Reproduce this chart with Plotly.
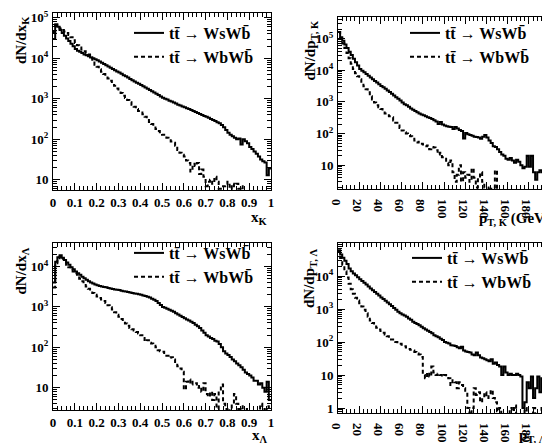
import numpy as np
import plotly.graph_objects as go

# ---- bin contents (100 bins each) ----
# x_K, 0..1
xk_ws = [30000, 70000, 60000, 50000, 42000, 36000, 31000, 27000, 23000, 20000,
         17000, 15500, 14500, 13500, 12500, 12000, 11200, 10500, 10000, 9500,
         9000, 8400, 7800, 7300, 6800, 6300, 5900, 5500, 5100, 4750,
         4450, 4150, 3850, 3600, 3350, 3100, 2900, 2700, 2500, 2350,
         2200, 2050, 1900, 1780, 1650, 1540, 1430, 1330, 1240, 1150,
         1070, 1010, 960, 900, 860, 810, 770, 720, 690, 650,
         620, 590, 560, 530, 500, 475, 450, 425, 400, 380,
         360, 340, 320, 300, 285, 265, 250, 225, 200, 170,
         145, 130, 120, 110, 100, 105, 75, 100, 90, 80,
         65, 58, 50, 44, 38, 32, 29, 27, 13, 19]
xk_wb = [45000, 65000, 62000, 55000, 50000, 46000, 42000, 38000, 33000, 28000,
         24000, 21000, 18500, 16500, 15000, 13500, 12500, 10500, 8500, 7000,
         6200, 5400, 4700, 4100, 3600, 3200, 2800, 2400, 2100, 1800,
         1600, 1400, 1200, 1050, 940, 830, 720, 640, 560, 500,
         460, 420, 360, 320, 270, 240, 210, 180, 160, 140,
         130, 120, 110, 95, 88, 83, 70, 55, 47, 42,
         38, 30, 26, 16, 25, 22, 26, 14, 18, 12,
         7, 9, 10, 8, 12, 9, 6, 4, 7, 8,
         9, 6, 8, 7, 8, 6, 7, 4, 3, 3,
         3, 3, 3, 3, 3, 3, 3, 3, 3, 3]

# p_T,K, 0..200 GeV
ptk_ws = [160000, 110000, 85000, 65000, 50000, 38000, 30000, 23000, 18000, 14000,
          11000, 9700, 8600, 7600, 6700, 5900, 5200, 4600, 4100, 3600,
          3200, 2900, 2600, 2300, 2050, 1800, 1600, 1400, 1250, 1100,
          950, 850, 780, 700, 620, 560, 520, 470, 430, 400,
          380, 350, 330, 310, 290, 265, 240, 200, 230, 195,
          180, 170, 165, 160, 140, 160, 145, 130, 120, 70,
          105, 95, 90, 85, 80, 78, 75, 68, 80, 90,
          75, 60, 50, 40, 38, 32, 26, 22, 20, 16,
          15, 17, 14, 12, 15, 13, 10, 8, 9, 20,
          9, 20, 6, 3.5, 6, 7, 6, 7, 5, 6]
ptk_wb = [160000, 100000, 70000, 50000, 35000, 24000, 16000, 11000, 8000, 6500,
          5200, 4000, 3100, 2500, 2000, 1500, 1200, 950, 780, 680,
          600, 520, 430, 380, 350, 330, 260, 220, 180, 150,
          125, 110, 100, 90, 82, 75, 60, 52, 55, 48,
          45, 40, 42, 32, 38, 36, 30, 22, 25, 18,
          16, 12, 10, 14, 6, 3, 5, 10, 3, 6,
          4, 5, 3, 8, 4, 2, 4, 6, 3, 2,
          2, 1.5, 1.8, 2, 7, 1, 1, 1, 1, 1,
          1, 1, 1, 1, 1, 1, 1, 1, 1, 1,
          1, 1, 1, 1, 1, 1, 1, 1, 1, 1]

# x_Lambda, 0..1
xl_ws = [4000, 13000, 17000, 19000, 16500, 14500, 12500, 11000, 9500, 8500,
         7500, 6800, 6200, 5600, 5100, 4700, 4300, 4000, 3800, 3600,
         3450, 3300, 3200, 3100, 3050, 2950, 2850, 2750, 2700, 2650,
         2600, 2500, 2450, 2400, 2350, 2280, 2220, 2150, 2100, 2050,
         2000, 1920, 1850, 1780, 1700, 1600, 1500, 1400, 1250, 1120,
         1000, 950, 900, 850, 800, 760, 700, 650, 600, 560,
         520, 490, 460, 430, 400, 360, 330, 300, 260, 230,
         200, 185, 170, 160, 145, 140, 120, 100, 80, 70,
         65, 58, 50, 45, 40, 36, 32, 28, 24, 22,
         20, 18, 15, 15, 12, 13, 10, 8, 14, 5]
xl_wb = [3000, 12000, 16000, 17500, 15500, 13000, 11000, 9500, 8500, 7500,
         6800, 5900, 5000, 4300, 3700, 3200, 2800, 2500, 2200, 2000,
         1800, 1650, 1520, 1400, 1250, 1100, 980, 860, 740, 640,
         570, 500, 440, 390, 340, 300, 280, 260, 240, 220,
         200, 170, 140, 150, 130, 125, 110, 100, 85, 80,
         78, 72, 62, 55, 57, 50, 40, 34, 30, 25,
         9, 14, 16, 12, 14, 13, 10, 11, 8, 13,
         7, 6, 8, 5, 7, 3, 9, 12, 4, 3,
         2, 3, 4, 7, 4, 3, 3.5, 2, 3, 2,
         2, 2, 2, 2, 2, 4, 3, 2, 3.5, 2]

# p_T,Lambda, 0..200 GeV
ptl_ws = [60000, 45000, 36000, 29000, 23000, 17000, 14000, 12000, 10500, 9200,
          8000, 7000, 6200, 5500, 4800, 4200, 3700, 3300, 2900, 2550,
          2250, 2000, 1780, 1580, 1400, 1230, 1080, 950, 830, 740,
          680, 640, 580, 520, 470, 410, 380, 350, 320, 290,
          260, 240, 220, 200, 185, 160, 150, 140, 125, 115,
          100, 95, 90, 80, 78, 76, 70, 65, 72, 55,
          52, 50, 48, 42, 40, 48, 40, 34, 32, 30,
          28, 26, 30, 22, 24, 20, 18, 10, 18, 12,
          10, 11, 10, 10, 11, 10, 9, 1, 1.5, 6,
          4, 9, 2, 4, 9, 3, 8, 1.5, 5, 1]
ptl_wb = [55000, 35000, 22000, 14000, 9000, 5800, 4000, 2900, 2200, 1800,
          1500, 1200, 950, 750, 580, 450, 380, 320, 270, 240,
          215, 190, 170, 150, 135, 120, 110, 100, 92, 88,
          82, 75, 68, 62, 58, 55, 50, 45, 42, 35,
          10, 8, 12, 9, 18, 12, 10, 11, 10, 9,
          10, 9, 8, 5, 7, 6, 4, 6, 5, 4,
          3, 1, 0.6, 1, 4, 2.5, 3, 1.5, 2, 3,
          2, 2.5, 3.5, 2, 1.5, 0.8, 1, 0.6, 0.6, 0.6,
          0.6, 1, 0.8, 1.2, 0.6, 0.6, 0.6, 0.6, 1, 0.6,
          0.6, 0.6, 1, 0.6, 0.6, 0.6, 1, 0.6, 1, 0.6]

label_ws = "tt\u0304 \u2192 WsWb\u0304"
label_wb = "tt\u0304 \u2192 WbWb\u0304"

FONT = "Liberation Serif"
x_edges = np.linspace(0, 1, 101)
pt_edges = np.linspace(0, 200, 101)


def step(edges, vals):
    # ROOT-like histogram outline: hold each bin value across its width
    return edges, list(vals) + [vals[-1]]


fig = go.Figure()

panels = [
    (1, x_edges, xk_ws, xk_wb),
    (2, pt_edges, ptk_ws, ptk_wb),
    (3, x_edges, xl_ws, xl_wb),
    (4, pt_edges, ptl_ws, ptl_wb),
]
for n, edges, ws, wb in panels:
    sfx = "" if n == 1 else str(n)
    lg = "legend" if n == 1 else "legend" + str(n)
    x, y = step(edges, ws)
    fig.add_trace(go.Scatter(x=x, y=y, mode="lines", line_shape="hv",
                             line=dict(color="black", width=2),
                             name=label_ws, xaxis="x" + sfx, yaxis="y" + sfx,
                             legend=lg))
    x, y = step(edges, wb)
    fig.add_trace(go.Scatter(x=x, y=y, mode="lines", line_shape="hv",
                             line=dict(color="black", width=2, dash="4px,3px"),
                             name=label_wb, xaxis="x" + sfx, yaxis="y" + sfx,
                             legend=lg))

tickfont = dict(family=FONT, size=13, color="black", weight="bold")


def xaxis(dom, rng, dt, mdt, anchor):
    return dict(domain=dom, range=rng, anchor=anchor, dtick=dt, tick0=0,
                automargin=False,
                showgrid=False, zeroline=False, showline=True, linecolor="black",
                linewidth=1, mirror="allticks", ticks="inside", ticklen=7,
                tickcolor="black", tickfont=tickfont, ticklabelstandoff=0,
                minor=dict(dtick=mdt, tick0=0, ticks="inside", ticklen=4,
                           tickcolor="black", showgrid=False))


def yaxis(dom, rng, decades, anchor):
    vals = [10 ** d for d in decades]
    text = ["1" if d == 0 else "10" if d == 1 else "10<sup>%d</sup>" % d
            for d in decades]
    lo, hi = int(np.floor(rng[0])), int(np.ceil(rng[1]))
    minor = [m * 10 ** d for d in range(lo, hi) for m in range(2, 10)]
    return dict(domain=dom, type="log", range=rng, anchor=anchor,
                automargin=False,
                tickmode="array", tickvals=vals, ticktext=text,
                showgrid=False, zeroline=False, showline=True, linecolor="black",
                linewidth=1, mirror="allticks", ticks="inside", ticklen=7,
                tickcolor="black", tickfont=tickfont, ticklabelstandoff=1,
                minor=dict(tickmode="array", tickvals=minor, ticks="inside",
                           ticklen=4, tickcolor="black", showgrid=False))


W, H = 550, 443


def px_x(p):
    return p / W


def px_y(p):
    return 1 - p / H


def xd(a, b):
    return [px_x(a), px_x(b)]


def yd(top, bot):
    return [px_y(bot), px_y(top)]


legfont = dict(family=FONT, size=16, color="black", weight="bold")


def legend(px, py):
    return dict(x=px_x(px), y=px_y(py), xanchor="left", yanchor="top",
                bgcolor="rgba(0,0,0,0)", font=legfont, itemwidth=30,
                tracegroupgap=0)


fig.update_layout(
    width=W, height=H, margin=dict(l=0, r=0, t=0, b=0),
    paper_bgcolor="white", plot_bgcolor="white",
    xaxis=xaxis(xd(45, 263), [0, 1], 0.1, 0.02, "y"),
    yaxis=yaxis(yd(5, 182), [0.75, 5.12], [1, 2, 3, 4, 5], "x"),
    xaxis2=xaxis(xd(330, 542), [0, 200], 20, 4, "y2"),
    yaxis2=yaxis(yd(9, 181), [0.25, 5.68], [1, 2, 3, 4, 5], "x2"),
    xaxis3=xaxis(xd(45, 263), [0, 1], 0.1, 0.02, "y3"),
    yaxis3=yaxis(yd(235, 402), [0.45, 4.58], [1, 2, 3, 4], "x3"),
    xaxis4=xaxis(xd(330, 542), [0, 200], 20, 4, "y4"),
    yaxis4=yaxis(yd(235, 405), [-0.15, 5.0], [0, 1, 2, 3, 4], "x4"),
    legend=legend(121, 8),
    legend2=legend(397, 8),
    legend3=legend(121, 228),
    legend4=legend(399, 233),
)

titlefont = dict(family=FONT, size=15, color="black", weight="bold")
xtitles = [("x<sub>K</sub>", 262, 210), ("p<sub>T, K</sub> (GeV)", 544, 211),
           ("x<sub>\u039b</sub>", 262, 428), ("p<sub>T, \u039b</sub>", 541, 428)]
for txt, px, py in xtitles:
    fig.add_annotation(text=txt, x=px_x(px), y=px_y(py), xref="paper", yref="paper",
                       xanchor="right", yanchor="middle", showarrow=False,
                       font=titlefont)

ytitles = [("dN/dx<sub>K</sub>", 14, 6), ("dN/dp<sub>T, K</sub>", 302, 10),
           ("dN/dx<sub>\u039b</sub>", 13, 238), ("dN/dp<sub>T, \u039b</sub>", 302, 238)]
for txt, px, py in ytitles:
    fig.add_annotation(text=txt, x=px_x(px), y=px_y(py), xref="paper", yref="paper",
                       xanchor="center", yanchor="top", textangle=-90,
                       showarrow=False, font=titlefont)

fig.write_html("out.html")
